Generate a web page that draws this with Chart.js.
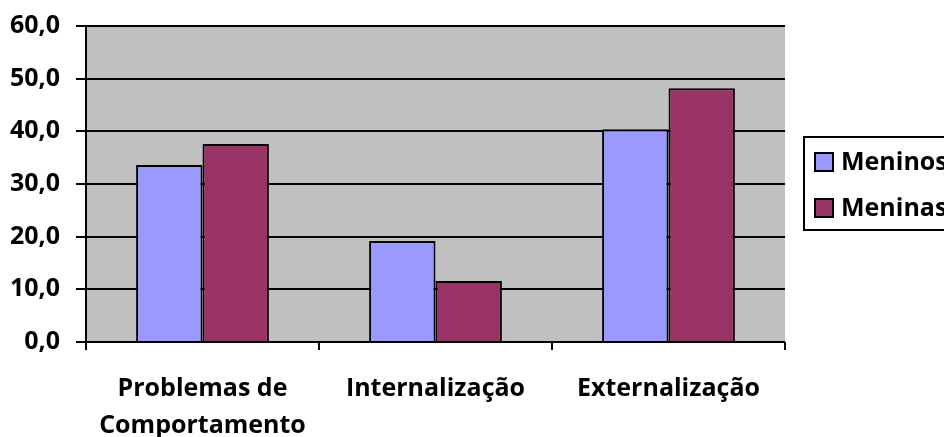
<!DOCTYPE html>
<html>
<head>
<meta charset="utf-8">
<script src="https://cdn.jsdelivr.net/npm/chart.js@4"></script>
<style>
  html, body { margin: 0; padding: 0; background: #fff; }
</style>
</head>
<body>
<canvas id="myChart" width="944" height="437"></canvas>
<script>
let chart

const categories = [["Problemas de", "Comportamento"], "Internalização", "Externalização"];
const seriesNames = ["Meninos", "Meninas"];
const meninos = [33.6, 19.2, 40.4];
const meninas = [37.6, 11.6, 48.2];
const seriesColors = ["#9999FF", "#993366"];

Chart.defaults.color = '#000';
Chart.defaults.font.size = 25;
Chart.defaults.font.family = "'Open Sans'";
Chart.defaults.font.weight = "bold";

// grey plot area
const plotBg = {
    id: "plotBg",
    beforeDraw(c) {
        const a = c.chartArea;
        const ctx = c.ctx;
        ctx.save();
        ctx.fillStyle = "#C0C0C0";
        ctx.fillRect(a.left, a.top, a.right - a.left, a.bottom - a.top);
        ctx.restore();
    },
    afterDatasetsDraw(c) {
        const a = c.chartArea;
        const ctx = c.ctx;
        ctx.save();
        ctx.strokeStyle = "#000";
        ctx.lineWidth = 2;
        ctx.beginPath();
        ctx.moveTo(a.left, a.top);
        ctx.lineTo(a.left, a.bottom);
        ctx.lineTo(a.right, a.bottom);
        ctx.stroke();
        ctx.restore();
    }
};

// boxed legend on the right, like the spreadsheet one
const boxLegend = {
    id: "boxLegend",
    afterDraw(c) {
        const ctx = c.ctx;
        const x0 = 804, y0 = 137, h = 93;
        ctx.save();
        ctx.fillStyle = "#fff";
        ctx.fillRect(x0, y0, 944 - x0 + 10, h);
        ctx.strokeStyle = "#000";
        ctx.lineWidth = 2;
        ctx.strokeRect(x0, y0, 944 - x0 + 10, h);
        ctx.font = "bold 25px 'Open Sans'";
        ctx.textBaseline = "middle";
        c.data.datasets.forEach((ds, i) => {
            const cy = y0 + 25 + i * 46;
            ctx.fillStyle = ds.backgroundColor;
            ctx.fillRect(815, cy - 9, 18, 18);
            ctx.lineWidth = 2;
            ctx.strokeRect(815, cy - 9, 18, 18);
            ctx.fillStyle = "#000";
            ctx.fillText(ds.label, 841, cy + 1);
        });
        ctx.restore();
    }
};

const ctx = document.getElementById('myChart');
chart = new Chart(ctx, {
    type: "bar",
    data: {
        labels: categories,
        datasets: [
            {
                label: seriesNames[0],
                data: meninos,
                backgroundColor: seriesColors[0],
                borderColor: "black",
                borderWidth: 2,
                barPercentage: 1,
                categoryPercentage: 0.57,
            },
            {
                label: seriesNames[1],
                data: meninas,
                backgroundColor: seriesColors[1],
                borderColor: "black",
                borderWidth: 2,
                barPercentage: 1,
                categoryPercentage: 0.57,
            },
        ]
    },
    options: {
        responsive: false,
        animation: false,
        layout: { padding: { top: 26, right: 159, left: 0, bottom: 0 } },
        plugins: {
            legend: { display: false },
            tooltip: { enabled: false },
        },
        scales: {
            y: {
                min: 0,
                max: 60,
                ticks: {
                    stepSize: 10,
                    padding: 16,
                    callback: v => v.toFixed(1).replace(".", ","),
                },
                grid: { color: "#000", lineWidth: 2, tickLength: 10 },
                border: { display: false },
                afterFit: s => { s.width = 86; s.paddingTop = 0; s.paddingBottom = 0; },
            },
            x: {
                ticks: { padding: 20, font: { lineHeight: 1.5 } },
                grid: { offset: true, drawOnChartArea: false, color: "#000", lineWidth: 2, tickLength: 8 },
                border: { display: false },
                afterFit: s => { s.height = 95; s.paddingLeft = 0; s.paddingRight = 0; },
            },
        }
    },
    plugins: [plotBg, boxLegend],
});
</script>
</body>
</html>
